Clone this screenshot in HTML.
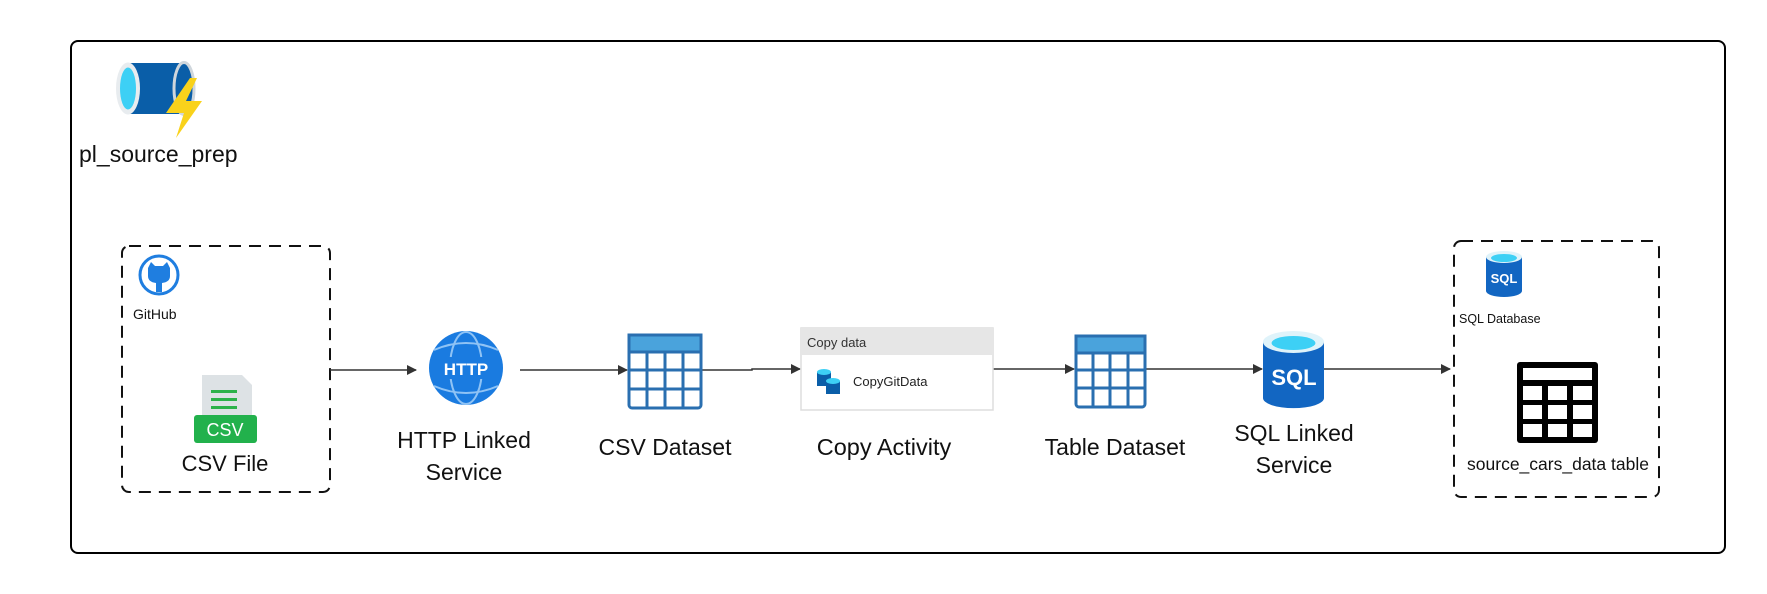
<!DOCTYPE html>
<html><head><meta charset="utf-8"><style>
html,body{margin:0;padding:0;background:#fff;width:1767px;height:594px;overflow:hidden}
svg text{font-family:"Liberation Sans","DejaVu Sans",sans-serif;fill:#111}
</style></head><body>
<svg width="1767" height="594" viewBox="0 0 1767 594" xmlns="http://www.w3.org/2000/svg">
<defs><marker id="ah" markerWidth="10" markerHeight="10" refX="9" refY="5" orient="auto" markerUnits="userSpaceOnUse"><path d="M0,0 L10,5 L0,10 z" fill="#333"/></marker></defs>
<rect x="71" y="41" width="1654" height="512" rx="7" fill="#fff" stroke="#000" stroke-width="2"/>
<!-- pipeline icon -->
<rect x="128" y="63" width="56" height="51" fill="#0a5ea8"/>
<ellipse cx="184" cy="88.5" rx="10" ry="26" fill="#0a5ea8" stroke="#cfd6dc" stroke-width="3"/>
<ellipse cx="128" cy="88.5" rx="12" ry="26" fill="#e8ecef"/>
<ellipse cx="128" cy="88.5" rx="8" ry="21" fill="#3dd0f5"/>
<path d="M190,78 L166,113 L184,113 L176,138 L202,101 L186,101 L197,78 z" fill="#f9d21b"/>
<text x="79" y="162" font-size="23">pl_source_prep</text>
<!-- left dashed -->
<rect x="122" y="246" width="208" height="246" rx="7" fill="none" stroke="#111" stroke-width="2" stroke-dasharray="12,8"/>
<circle cx="159" cy="275" r="19" fill="#fff" stroke="#1f7ee0" stroke-width="3"/>
<path d="M148,268 l3,-6 l4,4 h8 l4,-4 l3,6 v8 q0,6 -8,7 v9 h-6 v-9 q-8,-1 -8,-7z" fill="#1f7ee0"/>
<text x="133" y="319" font-size="14">GitHub</text>
<path d="M202,375 h40 l10,10 v45 h-50z" fill="#dde2e5"/>
<rect x="211" y="390" width="26" height="3" fill="#2cb24a"/><rect x="211" y="398" width="26" height="3" fill="#2cb24a"/><rect x="211" y="406" width="26" height="3" fill="#2cb24a"/>
<rect x="194" y="415" width="63" height="28" rx="3" fill="#22b14c"/>
<text x="225" y="436" font-size="18" text-anchor="middle" style="fill:#fff">CSV</text>
<text x="225" y="471" font-size="22" text-anchor="middle">CSV File</text>
<!-- arrows -->
<g stroke="#333" stroke-width="1.5" fill="none" marker-end="url(#ah)">
<line x1="330" y1="370" x2="416" y2="370"/>
<line x1="520" y1="370" x2="627" y2="370"/>
<polyline points="701,370 752,370 752,369 800,369"/>
<line x1="993" y1="369" x2="1074" y2="369"/>
<line x1="1145" y1="369" x2="1262" y2="369"/>
<line x1="1324" y1="369" x2="1450" y2="369"/>
</g>
<!-- HTTP globe -->
<circle cx="466" cy="368" r="37" fill="#1a7be0"/>
<g stroke="#8fc3f5" stroke-width="2" fill="none"><ellipse cx="466" cy="368" rx="16" ry="36"/><path d="M434,350 q32,-14 64,0 M434,386 q32,14 64,0"/></g>
<rect x="440" y="357" width="52" height="22" fill="#1a7be0"/>
<text x="466" y="375" font-size="17" font-weight="bold" text-anchor="middle" style="fill:#fff">HTTP</text>
<text x="464" y="448" font-size="23" text-anchor="middle">HTTP Linked</text>
<text x="464" y="480" font-size="23" text-anchor="middle">Service</text>
<!-- CSV dataset table -->
<g>
<rect x="629" y="335" width="72" height="73" rx="3" fill="#fff" stroke="#2a6fb0" stroke-width="3"/>
<rect x="629" y="335" width="72" height="17" fill="#4aa3dc" stroke="#2a6fb0" stroke-width="3"/>
<g stroke="#2a6fb0" stroke-width="3"><line x1="647" y1="352" x2="647" y2="408"/><line x1="665" y1="352" x2="665" y2="408"/><line x1="683" y1="352" x2="683" y2="408"/><line x1="629" y1="370" x2="701" y2="370"/><line x1="629" y1="389" x2="701" y2="389"/></g>
</g>
<text x="665" y="455" font-size="23" text-anchor="middle">CSV Dataset</text>
<!-- copy data -->
<rect x="801" y="328" width="192" height="82" fill="#fff" stroke="#ddd" stroke-width="1.5"/>
<rect x="801" y="328" width="192" height="27" fill="#e6e6e6"/>
<text x="807" y="347" font-size="13" style="fill:#333">Copy data</text>
<rect x="817" y="372" width="14" height="14" fill="#0a5ea8"/><ellipse cx="824" cy="372" rx="7" ry="3" fill="#3dd0f5"/>
<rect x="826" y="381" width="14" height="13" fill="#0a5ea8"/><ellipse cx="833" cy="381" rx="7" ry="3" fill="#3dd0f5"/>
<text x="853" y="386" font-size="13" style="fill:#222">CopyGitData</text>
<text x="884" y="455" font-size="23.5" text-anchor="middle">Copy Activity</text>
<!-- table dataset -->
<rect x="1076" y="336" width="69" height="71" rx="3" fill="#fff" stroke="#2a6fb0" stroke-width="3"/>
<rect x="1076" y="336" width="69" height="17" fill="#4aa3dc" stroke="#2a6fb0" stroke-width="3"/>
<g stroke="#2a6fb0" stroke-width="3"><line x1="1093" y1="353" x2="1093" y2="407"/><line x1="1110" y1="353" x2="1110" y2="407"/><line x1="1128" y1="353" x2="1128" y2="407"/><line x1="1076" y1="370" x2="1145" y2="370"/><line x1="1076" y1="388" x2="1145" y2="388"/></g>
<text x="1115" y="455" font-size="23" text-anchor="middle">Table Dataset</text>
<!-- SQL cylinder -->
<path d="M1263,342 v56 a30,10 0 0 0 61,0 v-56z" fill="#1266c2"/>
<ellipse cx="1293.5" cy="342" rx="30.5" ry="11" fill="#dff3fa"/>
<ellipse cx="1293.5" cy="343" rx="22" ry="7" fill="#3dd0f5"/>
<text x="1294" y="385" font-size="22" font-weight="bold" text-anchor="middle" style="fill:#fff">SQL</text>
<text x="1294" y="441" font-size="23" text-anchor="middle">SQL Linked</text>
<text x="1294" y="473" font-size="23" text-anchor="middle">Service</text>
<!-- right dashed -->
<rect x="1454" y="241" width="205" height="256" rx="7" fill="none" stroke="#111" stroke-width="2" stroke-dasharray="12,8"/>
<path d="M1486,257 v34 a18,6 0 0 0 36,0 v-34z" fill="#1266c2"/>
<ellipse cx="1504" cy="257" rx="18" ry="6" fill="#dff3fa"/><ellipse cx="1504" cy="258" rx="13" ry="4" fill="#3dd0f5"/>
<text x="1504" y="283" font-size="13" font-weight="bold" text-anchor="middle" style="fill:#fff">SQL</text>
<text x="1459" y="323" font-size="12.5">SQL Database</text>
<rect x="1517" y="362" width="81" height="81" rx="3" fill="#000"/>
<rect x="1523" y="368" width="69" height="12" fill="#fff"/>
<g fill="#fff"><rect x="1523" y="386" width="19" height="14"/><rect x="1548" y="386" width="19" height="14"/><rect x="1573" y="386" width="19" height="14"/>
<rect x="1523" y="405" width="19" height="14"/><rect x="1548" y="405" width="19" height="14"/><rect x="1573" y="405" width="19" height="14"/>
<rect x="1523" y="424" width="19" height="13"/><rect x="1548" y="424" width="19" height="13"/><rect x="1573" y="424" width="19" height="13"/></g>
<text x="1558" y="470" font-size="17.5" text-anchor="middle">source_cars_data table</text>
</svg>
</body></html>
